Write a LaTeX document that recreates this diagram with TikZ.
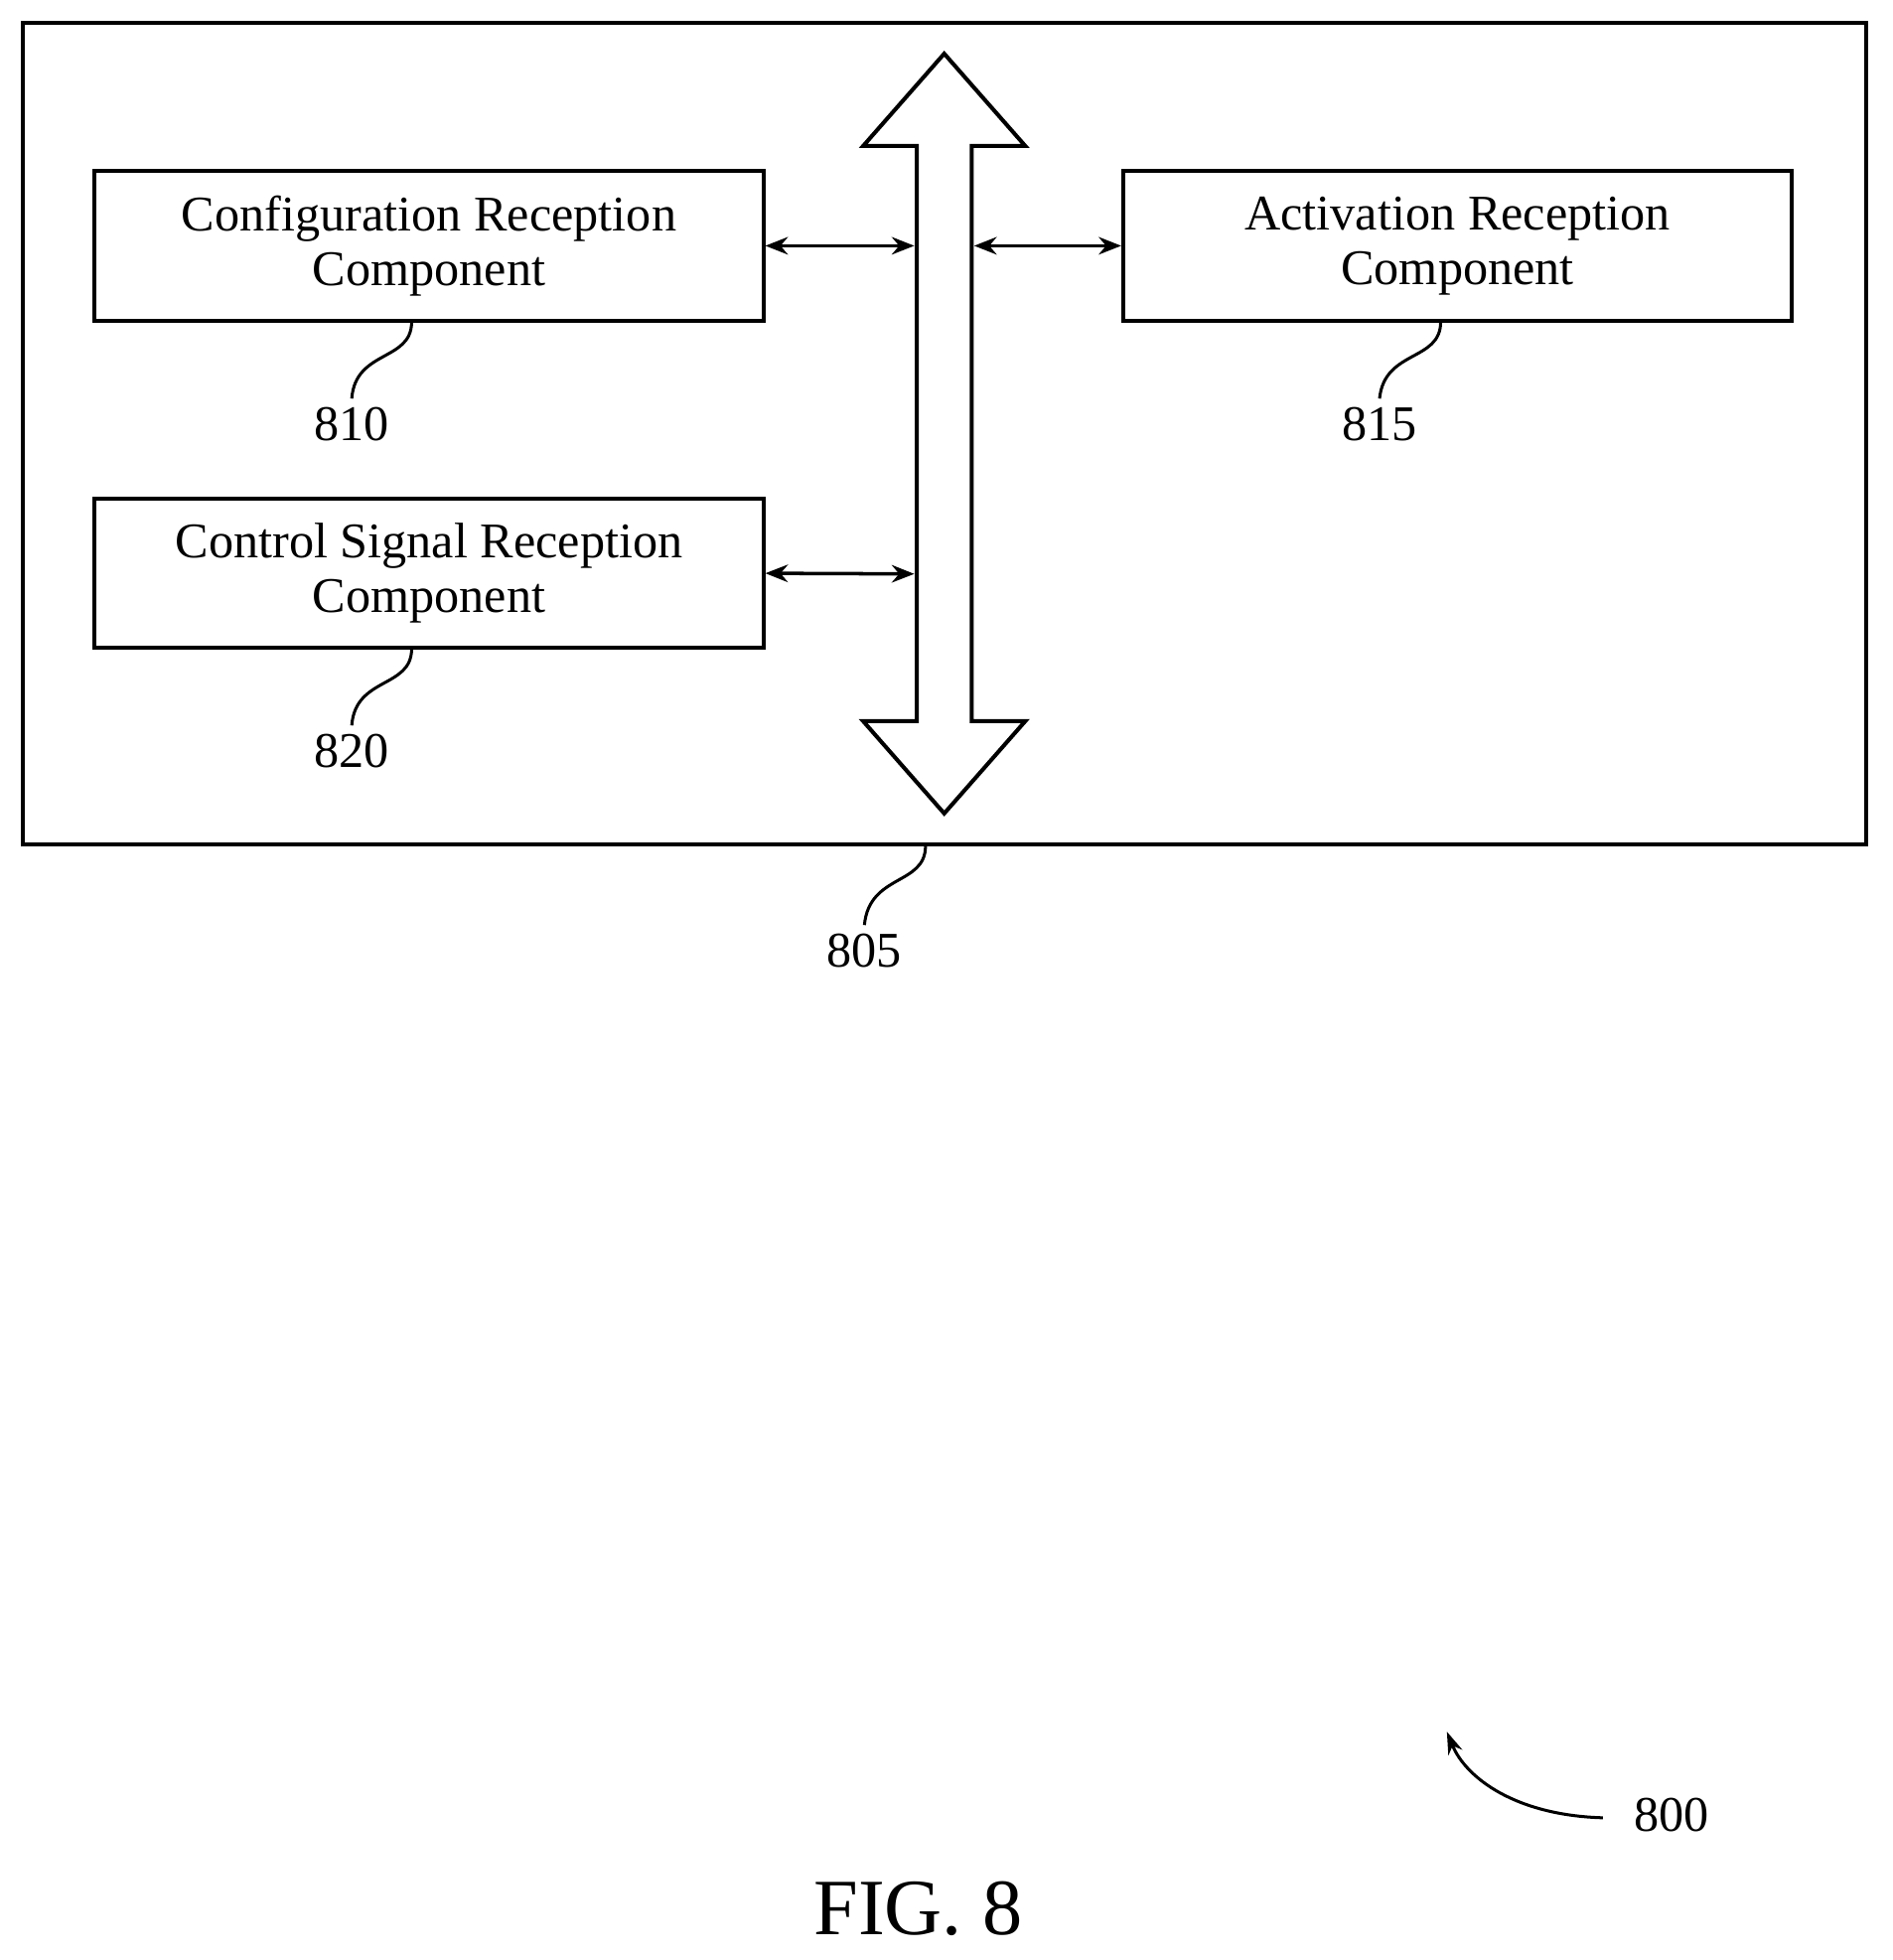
\documentclass[tikz,border=0pt]{standalone}
\usepackage{fontspec}
\setmainfont{Liberation Serif}
\usetikzlibrary{arrows.meta}
\begin{document}
\begin{tikzpicture}[x=0.5pt,y=-0.5pt,
  box/.style={draw,line width=1.6pt,minimum width=268pt,minimum height=60pt,align=center,font=\fontsize{20}{24}\selectfont,inner sep=0pt},
  lbl/.style={font=\fontsize{20}{24}\selectfont},
  lead/.style={line width=1.2pt},
  link/.style={line width=1.4pt,{Stealth[length=9pt,width=7pt]}-{Stealth[length=9pt,width=7pt]}}]
\useasboundingbox (0,0) rectangle (1517,1571);
\node[draw,line width=1.6pt,minimum width=739pt,minimum height=329.5pt,inner sep=0pt] (outer) at (757,347.5) {};
\draw[line width=1.6pt,fill=white] (735,117) -- (692,117) -- (757,43) -- (822,117) -- (779,117) -- (779,578) -- (822,578) -- (757,652) -- (692,578) -- (735,578) -- cycle;
\coordinate (busL1) at (733,197); \coordinate (busR1) at (781,197); \coordinate (busL2) at (733,460);
\node[box] (b810) at (344,197) {Configuration Reception\\[-2pt]Component};
\node[box] (b815) at (1168.5,197) {Activation Reception\\[-2pt]Component};
\node[box] (b820) at (344,459.5) {Control Signal Reception\\[-2pt]Component};
\draw[link] (b810.east) -- (busL1);
\draw[link] (busR1) -- (b815.west);
\draw[link] (b820.east) -- (busL2);
\node[lbl] (l810) at (282,340) {810};
\node[lbl] (l815) at (1106,340) {815};
\node[lbl] (l820) at (282,602) {820};
\node[lbl] (l805) at (693,762) {805};
\node[lbl] (l800) at (1340,1455) {800};
\node[font=\fontsize{32}{36}\selectfont] (fig) at (736,1530) {FIG. 8};
\draw[lead] (330,258) .. controls (330,290) and (285,280) .. (l810.north);
\draw[lead] (1155,258) .. controls (1155,290) and (1110,280) .. (l815.north);
\draw[lead] (330,520) .. controls (330,552) and (285,542) .. (l820.north);
\draw[lead] (742,678) .. controls (742,710) and (697,700) .. (l805.north);
\coordinate (a800) at (1160,1388);
\draw[lead,-{Stealth[length=9pt,width=6pt]}] (1285,1457) .. controls (1215,1455) and (1175,1425) .. (a800);
\end{tikzpicture}
\end{document}
